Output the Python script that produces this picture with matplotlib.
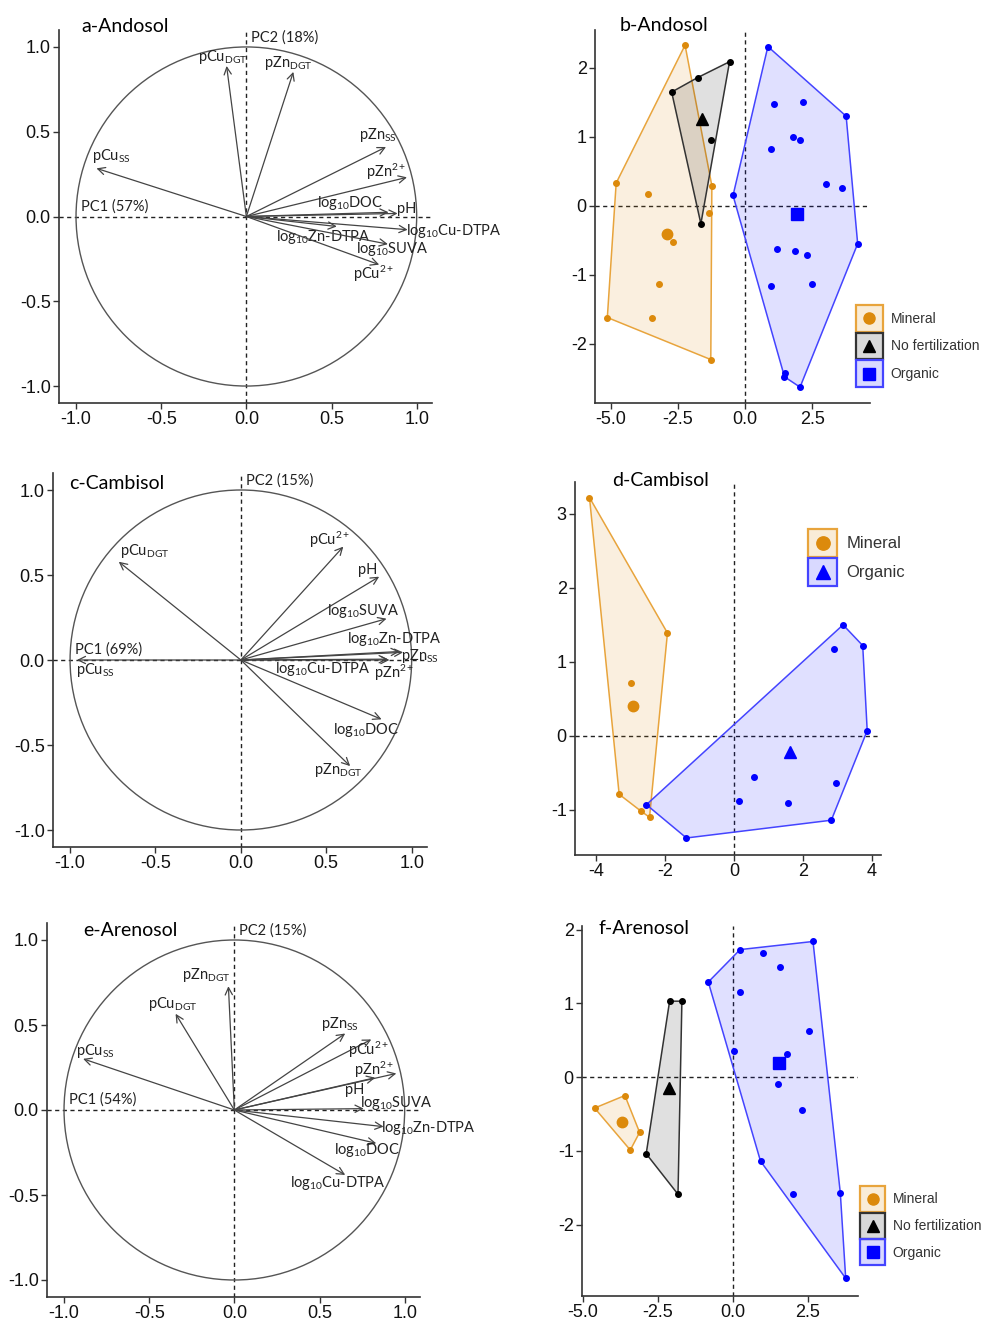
import numpy as np
import matplotlib.pyplot as plt
import matplotlib.ticker as ticker
from matplotlib.patches import Circle, Polygon, Rectangle
from matplotlib.lines import Line2D
from matplotlib.colors import to_rgba
from matplotlib.legend_handler import HandlerBase

plt.rcParams['font.family'] = ['Lato', 'DejaVu Sans']
plt.rcParams['mathtext.fontset'] = 'custom'
plt.rcParams['mathtext.rm'] = 'Lato'
plt.rcParams['mathtext.it'] = 'Lato:italic'
plt.rcParams['mathtext.bf'] = 'Lato:bold'
plt.rcParams['axes.unicode_minus'] = False

# variable names
CUDGT = r'pCu$_{\mathrm{DGT}}$'
ZNDGT = r'pZn$_{\mathrm{DGT}}$'
CUSS = r'pCu$_{\mathrm{SS}}$'
ZNSS = r'pZn$_{\mathrm{SS}}$'
CU2 = r'pCu$^{2+}$'
ZN2 = r'pZn$^{2+}$'
PH = 'pH'
DOC = r'log$_{10}$DOC'
SUVA = r'log$_{10}$SUVA'
CUDTPA = r'log$_{10}$Cu-DTPA'
ZNDTPA = r'log$_{10}$Zn-DTPA'

# ---- a-Andosol loadings
a_vars = [CUDGT, ZNDGT, ZNSS, ZN2, DOC, PH, CUDTPA, ZNDTPA, SUVA, CU2, CUSS]
a_pc1 = [-0.116, 0.276, 0.82, 0.943, 0.835, 0.888, 0.947, 0.531, 0.831, 0.78, -0.88]
a_pc2 = [0.888, 0.853, 0.41, 0.231, 0.025, 0.018, -0.078, -0.059, -0.163, -0.284, 0.284]
a_off = [(-0.025, 0.05), (-0.03, 0.05), (-0.05, 0.07), (-0.12, 0.03), (-0.225, 0.055), (0.055, 0.025),
         (0.27, -0.005), (-0.08, -0.063), (0.025, -0.03), (-0.035, -0.053), (0.09, 0.073)]

# ---- c-Cambisol loadings
c_vars = [CUDGT, CU2, PH, SUVA, ZNDTPA, ZNSS, CUDTPA, ZN2, DOC, ZNDGT, CUSS]
c_pc1 = [-0.715, 0.60, 0.81, 0.853, 0.93, 0.95, 0.86, 0.87, 0.824, 0.64, -0.96]
c_pc2 = [0.578, 0.667, 0.49, 0.243, 0.05, 0.045, 0.005, 0.0, -0.349, -0.624, 0.0]
c_off = [(0.15, 0.063), (-0.08, 0.04), (-0.065, 0.04), (-0.135, 0.045), (-0.03, 0.075), (0.1, -0.02),
         (-0.38, -0.055), (0.03, -0.075), (-0.09, -0.065), (-0.07, -0.025), (0.11, -0.06)]

# ---- e-Arenosol loadings
e_vars = [ZNDGT, CUDGT, CUSS, ZNSS, CU2, ZN2, PH, SUVA, ZNDTPA, DOC, CUDTPA]
e_pc1 = [-0.035, -0.345, -0.888, 0.651, 0.804, 0.951, 0.827, 0.759, 0.876, 0.833, 0.651]
e_pc2 = [0.728, 0.566, 0.301, 0.45, 0.415, 0.215, 0.19, 0.008, -0.098, -0.196, -0.382]
e_off = [(-0.13, 0.065), (-0.015, 0.06), (0.07, 0.045), (-0.03, 0.053), (-0.015, -0.06), (-0.13, 0.022),
         (-0.12, -0.07), (0.19, 0.035), (0.265, -0.005), (-0.055, -0.04), (-0.045, -0.045)]

# ---- b-Andosol scores
b_min_x = [-2.24, -4.81, -5.14, -1.28, -1.24, -3.61, -1.34, -2.70, -3.23, -3.47]
b_min_y = [2.33, 0.33, -1.62, -2.23, 0.29, 0.17, -0.10, -0.53, -1.14, -1.63]
b_none_x = [-2.74, -1.77, -0.58, -1.28, -1.65]
b_none_y = [1.65, 1.86, 2.09, 0.96, -0.26]
b_org_x = [0.85, 3.77, 4.20, 2.05, 1.50, 1.47, -0.45, 1.07, 2.16, 1.79, 2.06, 0.98, 3.01, 3.61,
           1.19, 1.87, 2.30, 2.48, 0.98]
b_org_y = [2.31, 1.30, -0.55, -2.63, -2.42, -2.48, 0.15, 1.47, 1.51, 1.00, 0.95, 0.82, 0.32, 0.26,
           -0.62, -0.66, -0.72, -1.13, -1.17]

# ---- d-Cambisol scores
d_min_x = [-4.19, -1.93, -2.45, -2.69, -3.33, -3.00]
d_min_y = [3.22, 1.39, -1.10, -1.02, -0.79, 0.71]
d_org_x = [3.16, 3.73, 3.86, 2.82, -1.38, -2.54, 2.90, 2.96, 0.58, 0.14, 1.57]
d_org_y = [1.50, 1.22, 0.07, -1.14, -1.38, -0.93, 1.18, -0.64, -0.55, -0.88, -0.91]

# ---- f-Arenosol scores
f_min_x = [-4.61, -3.60, -3.11, -3.42]
f_min_y = [-0.42, -0.25, -0.75, -0.99]
f_none_x = [-2.11, -1.70, -1.83, -2.89]
f_none_y = [1.03, 1.03, -1.59, -1.04]
f_org_x = [-0.82, 0.24, 2.67, 3.76, 3.58, 0.92, 1.00, 1.56, 0.24, 2.52, 0.02, 1.80, 1.50, 2.29, 2.01]
f_org_y = [1.29, 1.73, 1.84, -2.73, -1.57, -1.14, 1.68, 1.50, 1.16, 0.62, 0.35, 0.32, -0.09, -0.45, -1.59]

MINERAL = dict(pt='#DC8A0C', edge='#E8A43C', alpha=0.13)
NONE = dict(pt='#000000', edge='#333333', alpha=0.12)
ORGANIC = dict(pt='#0000FF', edge='#4444FF', alpha=0.12)

W, H = 981, 1320
fig = plt.figure(figsize=(W / 100, H / 100), dpi=100)


def px_axes(x0, y0, x1, y1):
    return fig.add_axes([x0 / W, 1 - y1 / H, (x1 - x0) / W, (y1 - y0) / H])


def style_axes(ax):
    for s in ['top', 'right']:
        ax.spines[s].set_visible(False)
    for s in ['left', 'bottom']:
        ax.spines[s].set_color('#333333')
        ax.spines[s].set_linewidth(1.2)
    ax.tick_params(direction='out', length=4, width=1, color='#333333', labelsize=13,
                   labelcolor='#111111', pad=2, labelfontfamily='Liberation Sans')
    ax.axhline(0, color='#222222', lw=1, ls=(0, (3, 2.5)), zorder=1)
    ax.axvline(0, color='#222222', lw=1, ls=(0, (3, 2.5)), zorder=1)


def hull(xs, ys):
    pts = sorted(set(zip(xs, ys)))

    def cross(o, a, b):
        return (a[0] - o[0]) * (b[1] - o[1]) - (a[1] - o[1]) * (b[0] - o[0])
    lower, upper = [], []
    for p in pts:
        while len(lower) >= 2 and cross(lower[-2], lower[-1], p) <= 0:
            lower.pop()
        lower.append(p)
    for p in reversed(pts):
        while len(upper) >= 2 and cross(upper[-2], upper[-1], p) <= 0:
            upper.pop()
        upper.append(p)
    return lower[:-1] + upper[:-1]


def circle_panel(ax, title, pc1_lab, pc2_lab, names, px, py, off, tpos):
    style_axes(ax)
    ax.set_xlim(-1.1, 1.09)
    ax.set_ylim(-1.1, 1.1)
    ax.add_patch(Circle((0, 0), 1, fill=False, ec='#555555', lw=1))
    for n, x, y, (dx, dy) in zip(names, px, py, off):
        ax.annotate('', xy=(x, y), xytext=(0, 0),
                    arrowprops=dict(arrowstyle='->', color='#444444', lw=0.9,
                                    shrinkA=0, shrinkB=0, mutation_scale=13))
        ax.text(x + dx, y + dy, n, ha='center', va='center', fontsize=10.5, color='#222222')
    ax.text(-0.97, 0.06, pc1_lab, ha='left', va='center', fontsize=10.5, color='#222222')
    ax.text(0.03, 1.055, pc2_lab, ha='left', va='center', fontsize=10.5, color='#222222')
    ax.text(tpos[0], tpos[1], title, transform=ax.transAxes, ha='left', va='center', fontsize=14)
    ax.xaxis.set_major_locator(ticker.FixedLocator([-1, -0.5, 0, 0.5, 1]))
    ax.yaxis.set_major_locator(ticker.FixedLocator([-1, -0.5, 0, 0.5, 1]))
    ax.xaxis.set_major_formatter(ticker.FormatStrFormatter('%.1f'))
    ax.yaxis.set_major_formatter(ticker.FormatStrFormatter('%.1f'))


def score_panel(ax, title, groups, tpos):
    style_axes(ax)
    for xs, ys, st, mk in groups:
        poly = Polygon(hull(xs, ys), closed=True, fc=to_rgba(st['pt'], st['alpha']),
                       ec=st['edge'], lw=1.1, zorder=2)
        ax.add_patch(poly)
    for xs, ys, st, mk in groups:
        ax.plot(xs, ys, ls='none', marker='o', ms=4, color=st['pt'], zorder=3)
        ax.plot(np.mean(xs), np.mean(ys), ls='none', marker=mk, ms=8 if mk != 'o' else 7.5,
                color=st['pt'], zorder=4)
    ax.text(tpos[0], tpos[1], title, transform=ax.transAxes, ha='left', va='center', fontsize=14)


class BoxMarker(HandlerBase):
    # key = filled square with coloured border and the group marker centred in it
    def create_artists(self, legend, orig_handle, xdescent, ydescent, width, height, fontsize, trans):
        st, mk, ms = orig_handle
        r = Rectangle((-xdescent, -ydescent), width, height, fc=to_rgba(st['pt'], st['alpha'] + 0.03),
                      ec=st['edge'], lw=1.6, transform=trans)
        m = Line2D([-xdescent + width / 2], [-ydescent + height / 2], ls='none', marker=mk,
                   color=st['pt'], ms=ms, transform=trans)
        return [r, m]


def group_legend(labels, styles, markers, anchor, fs, hl, hh):
    handles = [(st, mk, fs * 0.8) for st, mk in zip(styles, markers)]
    fig.legend(handles, labels, loc='upper left', bbox_to_anchor=anchor, frameon=False,
               handler_map={tuple: BoxMarker()},
               prop={'family': 'Liberation Sans', 'size': fs}, labelcolor='#333333',
               handlelength=hl, handleheight=hh, labelspacing=0.05, handletextpad=0.55,
               borderpad=0, borderaxespad=0)


# ---- correlation circles
ax_a = px_axes(59, 30, 432, 403)
circle_panel(ax_a, 'a-Andosol', 'PC1 (57%)', 'PC2 (18%)', a_vars, a_pc1, a_pc2, a_off, (0.06, 1.01))
ax_c = px_axes(53, 473, 427, 847)
circle_panel(ax_c, 'c-Cambisol', 'PC1 (69%)', 'PC2 (15%)', c_vars, c_pc1, c_pc2, c_off, (0.043, 0.971))
ax_e = px_axes(47, 923, 420, 1297)
circle_panel(ax_e, 'e-Arenosol', 'PC1 (54%)', 'PC2 (15%)', e_vars, e_pc1, e_pc2, e_off, (0.096, 0.981))

# ---- score plots
ax_b = px_axes(595, 30, 870, 403)
score_panel(ax_b, 'b-Andosol', [(b_min_x, b_min_y, MINERAL, 'o'), (b_none_x, b_none_y, NONE, '^'),
                                 (b_org_x, b_org_y, ORGANIC, 's')], (0.091, 1.013))
ax_b.set_xlim(-5.6, 4.66)
ax_b.set_ylim(-2.86, 2.55)
ax_b.xaxis.set_major_locator(ticker.FixedLocator([-5, -2.5, 0, 2.5]))
ax_b.xaxis.set_major_formatter(ticker.FormatStrFormatter('%.1f'))
ax_b.yaxis.set_major_locator(ticker.FixedLocator([-2, -1, 0, 1, 2]))

ax_d = px_axes(575, 482, 881, 855)
score_panel(ax_d, 'd-Cambisol', [(d_min_x, d_min_y, MINERAL, 'o'), (d_org_x, d_org_y, ORGANIC, '^')],
            (0.121, 1.003))
ax_d.set_xlim(-4.61, 4.26)
ax_d.set_ylim(-1.61, 3.43)
ax_d.xaxis.set_major_locator(ticker.FixedLocator([-4, -2, 0, 2, 4]))
ax_d.yaxis.set_major_locator(ticker.FixedLocator([-1, 0, 1, 2, 3]))

ax_f = px_axes(582, 926, 858, 1296)
score_panel(ax_f, 'f-Arenosol', [(f_min_x, f_min_y, MINERAL, 'o'), (f_none_x, f_none_y, NONE, '^'),
                                  (f_org_x, f_org_y, ORGANIC, 's')], (0.058, 0.992))
ax_f.set_xlim(-5.03, 4.17)
ax_f.set_ylim(-2.97, 2.05)
ax_f.xaxis.set_major_locator(ticker.FixedLocator([-5, -2.5, 0, 2.5]))
ax_f.xaxis.set_major_formatter(ticker.FormatStrFormatter('%.1f'))
ax_f.yaxis.set_major_locator(ticker.FixedLocator([-2, -1, 0, 1, 2]))

group_legend(['Mineral', 'No fertilization', 'Organic'], [MINERAL, NONE, ORGANIC], ['o', '^', 's'],
             (856 / W, 1 - 305 / H), 10, 1.94, 2.6)
group_legend(['Mineral', 'Organic'], [MINERAL, ORGANIC], ['o', '^'],
             (808 / W, 1 - 529 / H), 12, 1.74, 2.21)
group_legend(['Mineral', 'No fertilization', 'Organic'], [MINERAL, NONE, ORGANIC], ['o', '^', 's'],
             (860 / W, 1 - 1186 / H), 10, 1.8, 2.5)

fig.savefig('out.png', dpi=100, facecolor='white')
